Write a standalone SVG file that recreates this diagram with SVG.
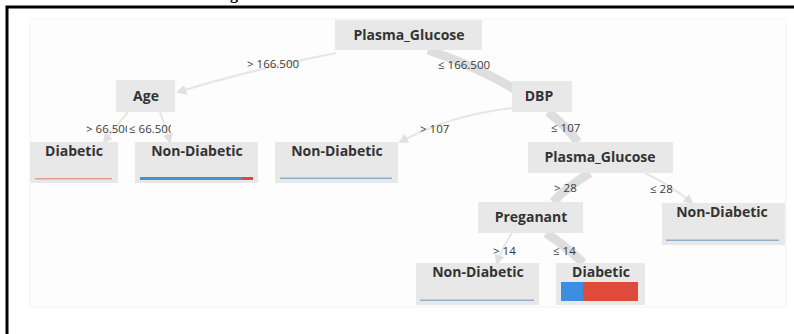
<svg xmlns="http://www.w3.org/2000/svg" width="794" height="334" viewBox="0 0 794 334">
  <style>
    .node rect.box { fill: #e8e8e8; }
    .node text { font-family: "Open Sans", "Noto Sans", "DejaVu Sans", sans-serif; font-weight: 700; font-size: 14px; fill: #333; text-anchor: middle; }
    .lbl { font-family: "Open Sans", "Noto Sans", "DejaVu Sans", sans-serif; font-size: 11.5px; fill: #3a3a3a; }
    .thin { fill: none; stroke: #e6e6e6; stroke-width: 2; marker-end: url(#tip); }
    .thick { fill: none; stroke: #dedede; stroke-width: 9; stroke-linecap: butt; }
    .frame { stroke: #000; stroke-width: 3; fill: none; }
  </style>
  <defs>
    <marker id="tip" viewBox="0 0 10 10" refX="8" refY="5" markerWidth="5" markerHeight="5" orient="auto">
      <path d="M0,0 L10,5 L0,10 z" fill="#e0e0e0"/>
    </marker>
    <!-- fixed-width label slots: long thresholds get truncated -->
    <clipPath id="slotA"><rect x="246" y="50" width="59" height="25"/></clipPath>
    <clipPath id="slotB"><rect x="436" y="50" width="59" height="25"/></clipPath>
    <clipPath id="slotC"><rect x="84" y="115" width="43" height="25"/></clipPath>
    <clipPath id="slotD"><rect x="129" y="115" width="42" height="25"/></clipPath>
  </defs>

  <rect width="794" height="334" fill="#fff"/>

  <!-- caption descender above the frame -->
  <text x="230" y="-1" font-family="Liberation Serif, serif" font-weight="700" font-size="16" fill="#000">g</text>

  <!-- outer frame -->
  <path class="frame" d="M7,334 L7,7 L794,7"/>

  <!-- plot panel -->
  <rect x="30" y="19" width="756" height="288" fill="#fdfdfd" stroke="#f3f3f3" stroke-width="1"/>

  <g id="connectors">
    <path class="thin" d="M336,53 Q250,70 178,92"/>
    <path class="thick" d="M428,50 Q480,68 516,90"/>
    <path class="thin" d="M512,108 Q450,115 400,142"/>
    <path class="thick" d="M548,112 Q565,125 578,142"/>
    <path class="thin" d="M128,112 Q115,128 104,142"/>
    <path class="thin" d="M160,112 Q166,128 170,142"/>
    <path class="thick" d="M590,173 Q568,186 553,202"/>
    <path class="thin" d="M645,173 Q672,186 692,203"/>
    <path class="thin" d="M512,233 Q502,248 497,263"/>
    <path class="thick" d="M546,233 Q567,247 583,263"/>
  </g>

  <g id="edge-labels">
    <text class="lbl" x="247" y="68" clip-path="url(#slotA)">&gt; 166.500</text>
    <text class="lbl" x="438" y="69" clip-path="url(#slotB)">≤ 166.500</text>
    <text class="lbl" x="86" y="133" clip-path="url(#slotC)">&gt; 66.500</text>
    <text class="lbl" x="129" y="133" clip-path="url(#slotD)">≤ 66.500</text>
    <text class="lbl" x="420" y="133">&gt; 107</text>
    <text class="lbl" x="551" y="132">≤ 107</text>
    <text class="lbl" x="554" y="192">&gt; 28</text>
    <text class="lbl" x="650" y="193">≤ 28</text>
    <text class="lbl" x="493" y="255">&gt; 14</text>
    <text class="lbl" x="553" y="255">≤ 14</text>
  </g>

  <g id="node-root" class="node">
    <rect class="box" x="335" y="20" width="147" height="30"/>
    <text x="409" y="40">Plasma_Glucose</text>
  </g>

  <g id="node-age" class="node">
    <rect class="box" x="116" y="80" width="59" height="32"/>
    <text x="146" y="101">Age</text>
  </g>

  <g id="node-dbp" class="node">
    <rect class="box" x="512" y="81" width="60" height="31"/>
    <text x="539" y="101">DBP</text>
  </g>

  <g id="node-diabetic-left" class="node">
    <rect class="box" x="30" y="142" width="88" height="41"/>
    <text x="74" y="156">Diabetic</text>
    <rect x="35" y="178" width="77" height="1.5" fill="#e0a090"/>
  </g>

  <g id="node-nondiabetic-age" class="node">
    <rect class="box" x="135" y="142" width="123" height="41"/>
    <text x="197" y="156">Non-Diabetic</text>
    <rect x="140" y="177" width="102" height="3" fill="#4a8fd6"/>
    <rect x="242" y="177" width="11" height="3" fill="#e04a3a"/>
  </g>

  <g id="node-nondiabetic-dbp" class="node">
    <rect class="box" x="275" y="142" width="123" height="41"/>
    <text x="337" y="156">Non-Diabetic</text>
    <rect x="280" y="177.5" width="112" height="1.5" fill="#8fb0cc"/>
  </g>

  <g id="node-glucose2" class="node">
    <rect class="box" x="528" y="142" width="145" height="31"/>
    <text x="600" y="162">Plasma_Glucose</text>
  </g>

  <g id="node-preganant" class="node">
    <rect class="box" x="478" y="202" width="105" height="31"/>
    <text x="531" y="222">Preganant</text>
  </g>

  <g id="node-nondiabetic-right" class="node">
    <rect class="box" x="662" y="203" width="123" height="42"/>
    <text x="722" y="217">Non-Diabetic</text>
    <rect x="666" y="239.5" width="113" height="1.5" fill="#8fb0cc"/>
  </g>

  <g id="node-nondiabetic-bottom" class="node">
    <rect class="box" x="416" y="263" width="123" height="42"/>
    <text x="478" y="277">Non-Diabetic</text>
    <rect x="420" y="299.5" width="114" height="1.5" fill="#8fb0cc"/>
  </g>

  <g id="node-diabetic-bottom" class="node">
    <rect class="box" x="556" y="263" width="89" height="42"/>
    <text x="601" y="277">Diabetic</text>
    <rect x="561" y="282" width="22" height="19" fill="#3d8ee0"/>
    <rect x="583" y="282" width="55" height="19" fill="#e04a3a"/>
  </g>
</svg>
